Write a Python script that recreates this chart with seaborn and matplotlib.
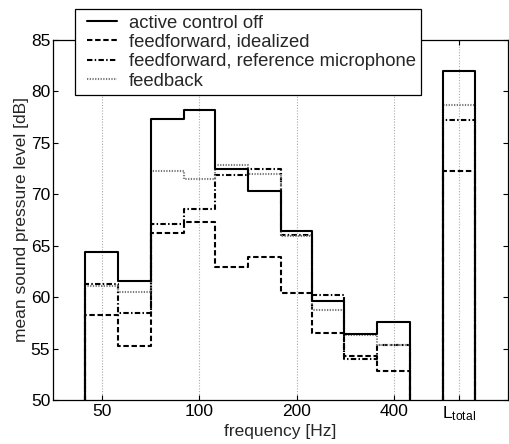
import numpy as np
import pandas as pd
import matplotlib
matplotlib.use("Agg")
import matplotlib.pyplot as plt
import seaborn as sns
from matplotlib.legend_handler import HandlerLine2D

# third-octave band centres (Hz) and the series
bands_hz = [50, 63, 80, 100, 125, 160, 200, 250, 315, 400]
series_names = ["active control off", "feedforward, idealized",
                "feedforward, reference microphone", "feedback"]
level_off = [64.4, 61.6, 77.3, 78.2, 72.5, 70.35, 66.4, 59.65, 56.4, 57.6]
level_ff_ideal = [58.3, 55.25, 66.2, 67.35, 62.95, 63.9, 60.4, 56.5, 54.3, 52.85]
level_ff_ref = [61.3, 58.5, 67.1, 68.6, 71.9, 72.45, 66.0, 60.25, 53.95, 55.3]
level_feedback = [61.1, 60.5, 72.25, 71.5, 72.8, 72.0, 65.9, 58.75, 56.3, 55.35]
total_levels = [82.0, 72.3, 77.25, 78.7]
x_ticks = [50, 100, 200, 400]
y_ticks = [50, 55, 60, 65, 70, 75, 80, 85]

sns.set_style("ticks")
plt.rcParams.update({
    "font.family": ["Liberation Sans", "DejaVu Sans"],
    "font.size": 12.5,
    "axes.labelsize": 12.5,
    "xtick.labelsize": 12.5,
    "ytick.labelsize": 12.5,
    "legend.fontsize": 13.3,
    "axes.edgecolor": "black",
    "axes.linewidth": 0.9,
    "xtick.direction": "in",
    "ytick.direction": "in",
    "xtick.top": True,
    "ytick.right": True,
    "xtick.major.size": 3.5,
    "ytick.major.size": 3.5,
    "xtick.color": "black",
    "ytick.color": "black",
})

# band edges on the log axis
edges = ([bands_hz[0] / 2 ** (1 / 6)]
         + [np.sqrt(a * b) for a, b in zip(bands_hz[:-1], bands_hz[1:])]
         + [bands_hz[-1] * 2 ** (1 / 6)])
total_centre = bands_hz[-1] * 2 ** (2 / 3)
total_edges = [total_centre / 2 ** (1 / 6), total_centre * 2 ** (1 / 6)]
base = 50

rows = []
all_levels = [level_off, level_ff_ideal, level_ff_ref, level_feedback]
for name, vals, tot in zip(series_names, all_levels, total_levels):
    xs = [edges[0]] + edges
    ys = [base] + vals + [base]
    for x, y in zip(xs, ys):
        rows.append({"freq": x, "level": y, "series": name, "seg": "bands"})
    for x, y in zip([total_edges[0], total_edges[0], total_edges[1]], [base, tot, base]):
        rows.append({"freq": x, "level": y, "series": name, "seg": "total"})
df = pd.DataFrame(rows)

fig = plt.figure(figsize=(5.10, 4.44), dpi=100)
ax = fig.add_axes([53 / 510, 1 - 400 / 444, 455 / 510, 360 / 444])

sns.lineplot(
    data=df, x="freq", y="level", hue="series", style="series",
    units="seg", estimator=None, sort=False, ax=ax,
    hue_order=series_names, style_order=series_names,
    palette={series_names[0]: "black", series_names[1]: "black",
             series_names[2]: "black", series_names[3]: "#777777"},
    dashes={series_names[0]: "", series_names[1]: (2.6, 1.3),
            series_names[2]: (2.6, 1.1, 0.7, 1.1), series_names[3]: (0.6, 0.7)},
    linewidth=1.5, drawstyle="steps-post",
)

# keep the solid line on top at shared edges
for line in ax.lines:
    if line.get_linestyle() == "-":
        line.set_zorder(3)

ax.set_xscale("log")
ax.set_xlim(bands_hz[0] / np.sqrt(2), total_centre * np.sqrt(2))
ax.set_ylim(50, 85)
ax.set_xticks(x_ticks + [total_centre])
ax.set_xticklabels([str(t) for t in x_ticks] + [r"$\mathregular{L_{total}}$"])
ax.xaxis.set_minor_locator(matplotlib.ticker.NullLocator())
ax.set_yticks(y_ticks)
ax.tick_params(axis="x", pad=3)
ax.tick_params(axis="y", pad=2)
ax.xaxis.grid(True, linestyle=(0, (1, 1.5)), color="#aaaaaa", linewidth=0.8)
ax.set_axisbelow(True)
for s in ax.spines.values():
    s.set_visible(True)

ax.set_xlabel("frequency [Hz]", labelpad=1)
ax.set_ylabel("mean sound pressure level [dB]", labelpad=1)

sns.move_legend(
    ax, loc="upper left", bbox_to_anchor=(75 / 510, 1 - 9 / 444),
    bbox_transform=fig.transFigure, title=None, frameon=True, fancybox=False,
    framealpha=1, edgecolor="black", borderaxespad=0, borderpad=0.3,
    handlelength=2.0, handletextpad=0.6, labelspacing=0.13,
    handler_map={matplotlib.lines.Line2D: HandlerLine2D(xpad=0.35)},
)
ax.get_legend().get_frame().set_linewidth(0.9)

fig.savefig("out.png", dpi=100)
